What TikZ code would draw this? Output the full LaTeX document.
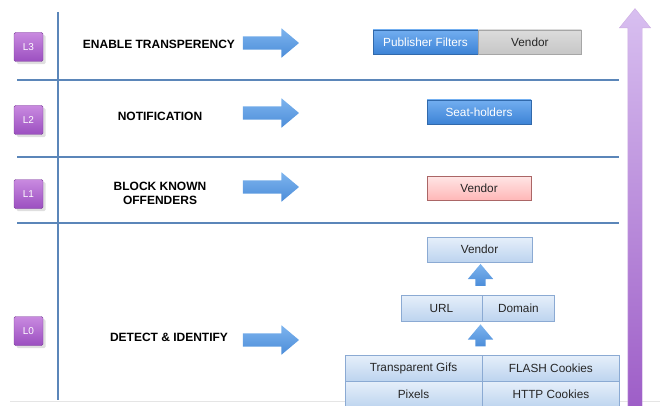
\documentclass[tikz,border=0pt]{standalone}
\usepackage{fontspec}
\setmainfont{Liberation Sans}
\usetikzlibrary{positioning,shapes.arrows,shadows}
\definecolor{rule}{HTML}{5B86B9}
\definecolor{lvltop}{HTML}{C98AE0}
\definecolor{lvlbot}{HTML}{9B4FC0}
\definecolor{gotop}{HTML}{7DB4EE}
\definecolor{gobot}{HTML}{4C8DD9}
\definecolor{celltop}{HTML}{E6EFFA}
\definecolor{cellbot}{HTML}{BDD4EF}
\definecolor{cellline}{HTML}{8BAAD3}
\definecolor{deeptop}{HTML}{72AEF0}
\definecolor{deepbot}{HTML}{3D83D6}
\definecolor{risetop}{HTML}{D8BFF0}
\definecolor{risebot}{HTML}{9C5BC6}

\begin{document}
\begin{tikzpicture}[x=1pt, y=-1pt,
                lvl/.style={draw=lvlbot!80!black, rounded corners=1.5pt, top color=lvltop,
                  bottom color=lvlbot, text=white, font=\fontsize{10}{12}\selectfont,
                  minimum size=29pt, inner sep=0pt, drop shadow={opacity=.25}},
                task/.style={font=\fontsize{12}{14}\selectfont\bfseries, align=center},
                go/.style={single arrow, draw=none, top color=gotop, bottom color=gobot,
                  minimum height=56pt, inner xsep=0pt, inner ysep=6.5pt, single arrow head extend=8pt,
                  single arrow tip angle=80},
                lift/.style={go, minimum height=22pt, inner xsep=5pt, inner ysep=0pt,
                  single arrow head extend=7.5pt, shape border rotate=90},
                cell/.style={draw=cellline, top color=celltop, bottom color=cellbot,
                  font=\fontsize{11.8}{14}\selectfont, text=black!85, inner sep=0pt,
                  minimum height=24pt, drop shadow={opacity=.2, shadow xshift=.6pt, shadow yshift=-.8pt}},
                deep/.style={cell, draw=deepbot!80!black, top color=deeptop, bottom color=deepbot, text=white},
                grey/.style={cell, draw=black!35, top color=black!14, bottom color=black!22},
                rose/.style={cell, draw=red!45!black!60, top color=red!10, bottom color=red!28}
                ]
                \useasboundingbox (0,0) rectangle (660,406);
                \clip (0,0) rectangle (660,406);
                \draw[black!10, line width=.8pt] (10,401) -- (660,401);
                % level grid
                \draw[rule, line width=1.6pt] (58,12) -- (58,400);
                \foreach \y in {80,157,223}
                  \draw[rule, line width=1.6pt] (17,\y) -- (619,\y);
                % levels
                \node[lvl] (l3) at (28.5,47) {L3};
                \node[lvl] (l2) at (28.5,120) {L2};
                \node[lvl] (l1) at (28.5,194) {L1};
                \node[lvl] (l0) at (28.5,331) {L0};
                \node[task] (enable) at (159,44) {ENABLE TRANSPERENCY};
                \node[task] (notify) at (160,116) {NOTIFICATION};
                \node[task] (block) at (160,193) {BLOCK KNOWN\\OFFENDERS};
                \node[task] (detect) at (169,337) {DETECT \& IDENTIFY};
                \node[go] (go3) at (267,43) {};
                \node[go] (go2) at (267,113) {};
                \node[go] (go1) at (267,187) {};
                \node[go] (go0) at (267,340) {};
                % L3
                \node[deep, minimum width=105pt] (filters) at (425.5,42) {Publisher Filters};
                \node[grey, minimum width=103pt, right=0pt of filters] (vendor3) {Vendor};
                % L2
                \node[deep, minimum width=104pt] (seats) at (479,112) {Seat-holders};
                % L1
                \node[rose, minimum width=104pt] (vendor1) at (479,188) {Vendor};
                % L0
                \node[cell, minimum width=105pt, minimum height=25pt] (vendor0) at (479.5,249.5) {Vendor};
                \node[lift] (up1) at (480.5,278) {};
                \node[cell, minimum width=81pt, minimum height=26pt] (url) at (441.5,308) {URL};
                \node[cell, minimum width=72pt, minimum height=26pt, right=0pt of url] (domain) {Domain};
                \node[lift] (up2) at (480.5,338.5) {};
                \node[cell, minimum width=137pt, minimum height=26pt] (gifs) at (413.5,368) {Transparent Gifs};
                \node[cell, minimum width=137pt, minimum height=26pt, right=0pt of gifs] (flash) {FLASH Cookies};
                \node[cell, minimum width=137pt, minimum height=26pt, below=0pt of gifs] (pixels) {Pixels};
                \node[cell, minimum width=137pt, minimum height=26pt, right=0pt of pixels] (http) {HTTP Cookies};
                % rising maturity arrow
                \node[single arrow, draw=risebot!50, top color=risetop, bottom color=risebot,
                  minimum height=410pt, inner xsep=7pt, inner ysep=0pt, single arrow head extend=8.5pt,
                  single arrow tip angle=78, shape border rotate=90] (rise) at (635,218) {};
              \end{tikzpicture}
\end{document}
